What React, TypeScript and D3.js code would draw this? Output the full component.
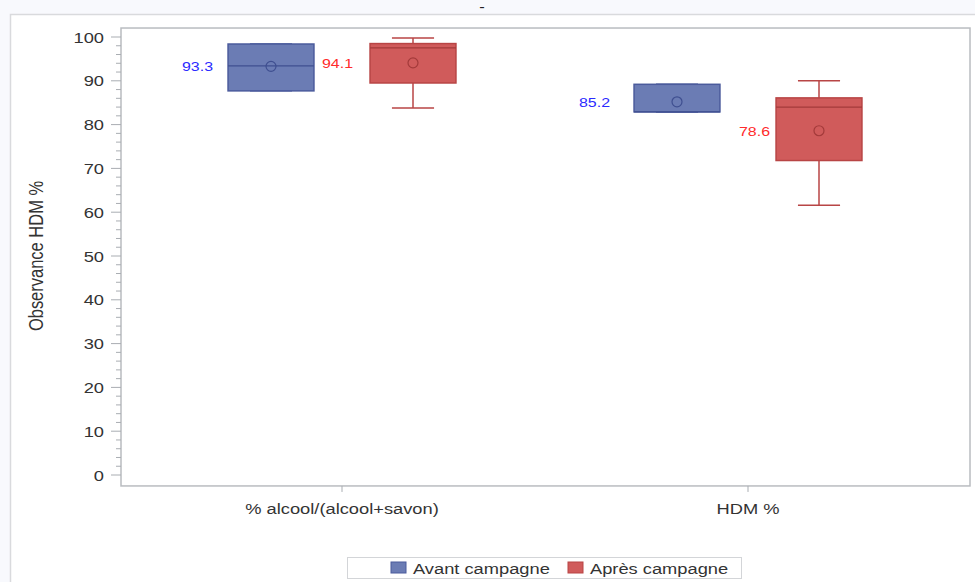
import React from "react";
import * as d3 from "d3";

// Categories and groups
const categories = ["% alcool/(alcool+savon)", "HDM %"];
const series = ["Avant campagne", "Après campagne"];

// Box statistics per category (Avant campagne)
const avantMin = [87.7, 82.9];
const avantQ1 = [87.7, 82.9];
const avantMedian = [93.4, 82.9];
const avantQ3 = [98.4, 89.2];
const avantMax = [98.4, 89.2];
const avantMean = [93.3, 85.2];

// Box statistics per category (Après campagne)
const apresMin = [83.8, 61.6];
const apresQ1 = [89.5, 71.8];
const apresMedian = [97.5, 84.0];
const apresQ3 = [98.5, 86.1];
const apresMax = [99.8, 90.0];
const apresMean = [94.1, 78.6];

const yTicks = [0, 10, 20, 30, 40, 50, 60, 70, 80, 90, 100];

const W = 975;
const H = 582;
const FONT = "'Liberation Sans', Arial, Helvetica, sans-serif";
const SX = 1.18; // horizontal stretch applied to text glyphs

const styles = [
  { fill: "#6b7cb4", stroke: "#4b5b9c", dark: "#3f4f90", label: "#2b2bff" },
  { fill: "#d05b5b", stroke: "#b84545", dark: "#a33a3a", label: "#ff2b2b" },
];

type Stat = { min: number; q1: number; med: number; q3: number; max: number; mean: number };

const stats: Stat[][] = [
  categories.map((_, i) => ({
    min: avantMin[i], q1: avantQ1[i], med: avantMedian[i], q3: avantQ3[i], max: avantMax[i], mean: avantMean[i],
  })),
  categories.map((_, i) => ({
    min: apresMin[i], q1: apresQ1[i], med: apresMedian[i], q3: apresQ3[i], max: apresMax[i], mean: apresMean[i],
  })),
];

// mean label gap from the box centre, per group and category
const labelGap = [
  [58, 67],
  [60, 49],
];

function SText(props: {
  x: number; y: number; size: number; anchor?: string; fill?: string; children: React.ReactNode; sx?: number;
}) {
  const { x, y, size, anchor = "start", fill = "#333", children, sx = SX } = props;
  return (
    <text
      transform={`translate(${x},${y}) scale(${sx},1)`}
      fontFamily={FONT}
      fontSize={size}
      textAnchor={anchor}
      fill={fill}
    >
      {children}
    </text>
  );
}

export default function App() {
  const y = d3.scaleLinear().domain([0, 100]).range([475, 37]);
  const x = d3.scaleBand<string>().domain(categories).range([139, 951]);
  const inner = d3.scaleBand<string>().domain(series).range([-142, 142]);

  const left = 121;
  const right = 970;
  const top = y(102.05);
  const bottom = y(-2.5);

  const boxW = inner.bandwidth() * 0.605;
  const capW = boxW * 0.49;

  const minorTicks = d3.range(0, 101, 2).filter((v) => v % 10 !== 0);

  return (
    <svg
      width={W}
      height={H}
      style={{ position: "absolute", left: 0, top: 0, display: "block", background: "#f8f9fd" }}
    >
      {/* page panel */}
      <rect x={10.5} y={14.5} width={W} height={H} fill="#ffffff" stroke="#d9dadd" strokeWidth={1.5} />
      <SText x={482} y={12} size={14} anchor="middle" fill="#222">-</SText>

      {/* plot frame */}
      <rect x={left} y={top} width={right - left} height={bottom - top} fill="#ffffff" stroke="#b9bcc0" strokeWidth={1.5} />

      {/* y axis ticks */}
      {minorTicks.map((t) => (
        <line key={"m" + t} x1={left - 5} x2={left} y1={y(t)} y2={y(t)} stroke="#a9adb2" strokeWidth={1} />
      ))}
      {yTicks.map((t) => (
        <g key={"t" + t}>
          <line x1={left - 10} x2={left} y1={y(t)} y2={y(t)} stroke="#a9adb2" strokeWidth={1} />
          <SText x={104} y={y(t) + 5.5} size={15.5} anchor="end" fill="#333">{t}</SText>
        </g>
      ))}
      <text
        transform={`translate(43,${(y(0) + y(100)) / 2}) scale(1.25,1) rotate(-90)`}
        fontFamily={FONT}
        fontSize={16.5}
        textAnchor="middle"
        fill="#333"
      >
        Observance HDM %
      </text>

      {/* x axis ticks and labels */}
      {categories.map((c) => {
        const cx = (x(c) ?? 0) + x.bandwidth() / 2;
        return (
          <g key={c}>
            <line x1={cx} x2={cx} y1={bottom} y2={bottom + 6} stroke="#a9adb2" strokeWidth={1} />
            <SText x={cx} y={514} size={15.5} anchor="middle" fill="#333">{c}</SText>
          </g>
        );
      })}

      {/* boxes */}
      {series.map((s, si) =>
        categories.map((c, ci) => {
          const st = stats[si][ci];
          const sty = styles[si];
          const cx = (x(c) ?? 0) + x.bandwidth() / 2 + (inner(s) ?? 0) + inner.bandwidth() / 2;
          return (
            <g key={s + c}>
              <line x1={cx} x2={cx} y1={y(st.max)} y2={y(st.q3)} stroke={sty.stroke} strokeWidth={1.5} />
              <line x1={cx} x2={cx} y1={y(st.q1)} y2={y(st.min)} stroke={sty.stroke} strokeWidth={1.5} />
              <line x1={cx - capW / 2} x2={cx + capW / 2} y1={y(st.max)} y2={y(st.max)} stroke={sty.stroke} strokeWidth={1.5} />
              <line x1={cx - capW / 2} x2={cx + capW / 2} y1={y(st.min)} y2={y(st.min)} stroke={sty.stroke} strokeWidth={1.5} />
              <rect
                x={cx - boxW / 2}
                y={y(st.q3)}
                width={boxW}
                height={y(st.q1) - y(st.q3)}
                fill={sty.fill}
                stroke={sty.stroke}
                strokeWidth={1.5}
              />
              <line x1={cx - boxW / 2} x2={cx + boxW / 2} y1={y(st.med)} y2={y(st.med)} stroke={sty.dark} strokeWidth={1.2} />
              <circle cx={cx} cy={y(st.mean)} r={5} fill="none" stroke={sty.dark} strokeWidth={1.2} />
              <SText x={cx - labelGap[si][ci]} y={y(st.mean) + 5} size={13.5} anchor="end" fill={sty.label}>
                {st.mean.toFixed(1)}
              </SText>
            </g>
          );
        })
      )}

      {/* legend */}
      <rect x={347.5} y={557.5} width={394} height={21} fill="#ffffff" stroke="#d3d5d8" strokeWidth={1} />
      {series.map((s, si) => {
        const lx = si === 0 ? 391 : 568;
        return (
          <g key={"lg" + s}>
            <rect x={lx} y={562} width={15} height={11} fill={styles[si].fill} stroke={styles[si].stroke} strokeWidth={1} />
            <SText x={lx + 22} y={573.5} size={15.5} fill="#333">{s}</SText>
          </g>
        );
      })}
    </svg>
  );
}
